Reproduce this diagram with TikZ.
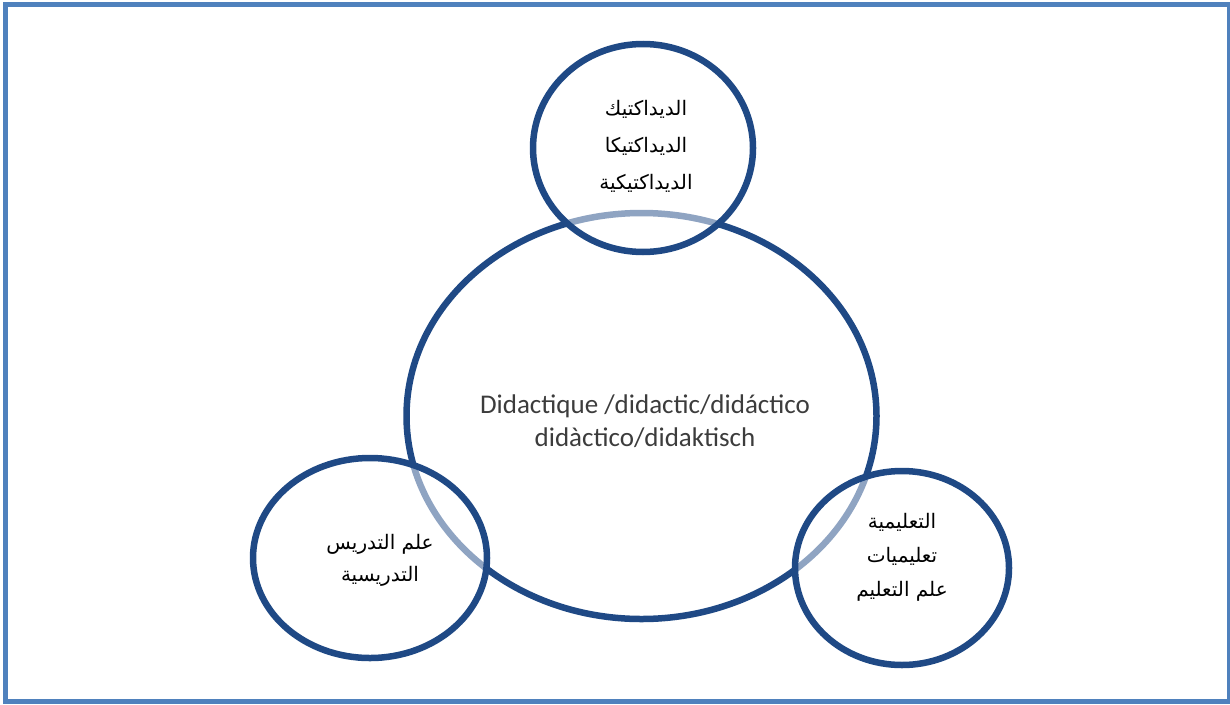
\documentclass[tikz,border=0pt]{standalone}
\usepackage{fontspec}
\usepackage{tikz}
\usetikzlibrary{shapes.geometric}
\setmainfont{Carlito}
\newfontfamily\arabicfont[Script=Arabic]{DejaVu Sans}
\TeXXeTstate=1
\definecolor{ringblue}{RGB}{31,73,133}
\definecolor{frameblue}{RGB}{79,129,189}
\definecolor{textgray}{RGB}{60,60,60}

\begin{document}
\begin{tikzpicture}
	[
	x=1pt, y=-1pt,
	align=center,
	ring/.style={ellipse, draw=ringblue, line width=6.5pt, inner sep=0pt},
	smallring/.style={ring, fill=white, fill opacity=0.5, draw opacity=1},
	latin/.style={text=textgray, font=\fontsize{27}{33}\selectfont},
	arabic/.style={text=black, font=\arabicfont\fontsize{20}{#1}\selectfont},
	arabic/.default=36,
	]
		\useasboundingbox (0,0) rectangle (1230,704);
		
		% frame
		\draw[frameblue, line width=5.5pt] (5.5,4.5) rectangle (1229.5,701.5);
		
		% centre
		\node[ring, minimum width=470, minimum height=406] (mid) at 	(641.5, 416) {};
		\node[latin] (midt) at 		(645, 421) {Didactique /didactic/didáctico\\didàctico/didaktisch};
		
		% top
		\node[smallring, minimum width=220, minimum height=208] (top) at 	(643, 148) {};
		\node[arabic=37] (topt) at 		(646, 146) {\beginR الديداكتيك\endR\\\beginR الديداكتيكا\endR\\\beginR الديداكتيكية\endR};
		
		% left
		\node[smallring, minimum width=234, minimum height=200] (lft) at 	(370, 558) {};
		\node[arabic=32] (lftt) at 		(380, 560) {\beginR علم التدريس\endR\\\beginR التدريسية\endR};
		
		% right
		\node[smallring, minimum width=214, minimum height=194] (rgt) at 	(902, 568) {};
		\node[arabic=34] (rgtt) at 		(902, 557) {\beginR التعليمية\endR\\\beginR تعليميات\endR\\\beginR علم التعليم\endR};
		
	\end{tikzpicture}
\end{document}
